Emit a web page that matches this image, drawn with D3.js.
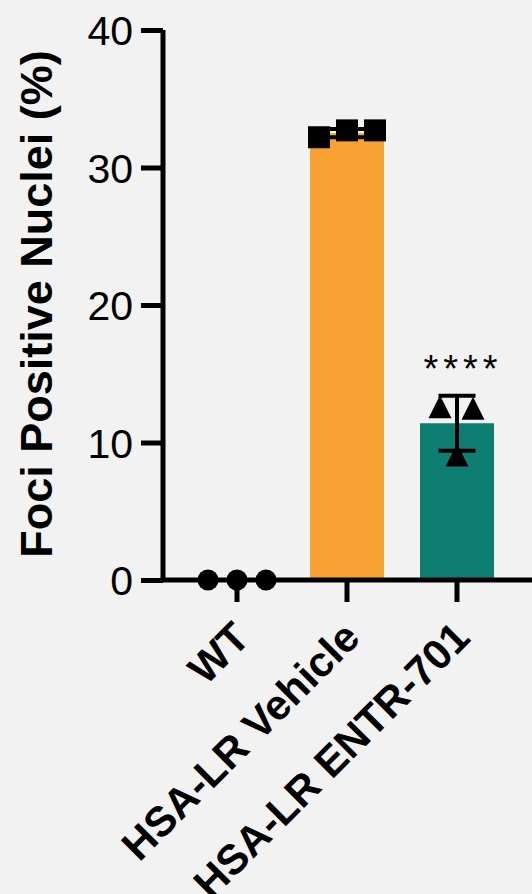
<!DOCTYPE html>
<html>
<head>
<meta charset="utf-8">
<script src="https://cdn.jsdelivr.net/npm/d3@7"></script>
<style>
  html, body { margin: 0; padding: 0; background: #f2f2f2; }
  svg { display: block; }
</style>
</head>
<body>
<div id="chart"></div>
<script>
// ---- data ----
const categories = ["WT", "HSA-LR Vehicle", "HSA-LR ENTR-701"];
const means = [0, 32.5, 11.4];
const sds = [0, 0.3, 2.0];
const pointsWT = [0, 0, 0];
const pointsVehicle = [32.2, 32.7, 32.7];
const pointsENTR = [12.6, 9.1, 12.5];
const yTicks = [0, 10, 20, 30, 40];
const sigLabels = ["", "", "****"];
const yTitle = "Foci Positive Nuclei (%)";

const barColors = [null, "#F8A233", "#0E7E73"];
const pointSets = [pointsWT, pointsVehicle, pointsENTR];
const shapes = ["circle", "square", "triangle"];

// ---- layout ----
const W = 532, H = 894;
const svg = d3.select("#chart").append("svg").attr("width", W).attr("height", H);
svg.append("rect").attr("width", W).attr("height", H).attr("fill", "#f2f2f2");

const y = d3.scaleLinear().domain([0, 40]).range([580, 30]);
const x = d3.scaleBand().domain(categories).range([182, 512])
  .paddingInner(0.327).paddingOuter(0.1635);
const cx = c => x(c) + x.bandwidth() / 2;
const axisX = 163;

// bars
categories.forEach((c, i) => {
  if (!barColors[i] || means[i] <= 0) return;
  svg.append("rect")
    .attr("x", x(c)).attr("width", x.bandwidth())
    .attr("y", y(means[i])).attr("height", y(0) - y(means[i]))
    .attr("fill", barColors[i]);
});

// error bars
const capW = 37;
categories.forEach((c, i) => {
  if (sds[i] <= 0) return;
  const g = svg.append("g").attr("stroke", "#000").attr("stroke-width", 4);
  const xc = cx(c);
  g.append("line").attr("x1", xc).attr("x2", xc)
    .attr("y1", y(means[i] + sds[i])).attr("y2", y(means[i] - sds[i]));
  [means[i] + sds[i], means[i] - sds[i]].forEach(v => {
    g.append("line").attr("x1", xc - capW / 2).attr("x2", xc + capW / 2)
      .attr("y1", y(v)).attr("y2", y(v));
  });
});

// axes
const yAxis = d3.axisLeft(y).tickValues(yTicks).tickSize(22).tickPadding(8).tickFormat(d3.format("d"));
const gy = svg.append("g").attr("transform", `translate(${axisX},0)`).call(yAxis);
gy.select(".domain").attr("d", `M0,${y(40)}V${y(0)}`).attr("stroke", "#000").attr("stroke-width", 5);
gy.selectAll(".tick line").attr("stroke", "#000").attr("stroke-width", 5);
gy.selectAll(".tick text").attr("font-family", "Liberation Sans, Arial, sans-serif")
  .attr("font-size", 41).attr("fill", "#000").attr("dy", "0.36em").attr("x", -30);

const xAxis = d3.axisBottom(x).tickSize(22).tickFormat("");
const gx = svg.append("g").attr("transform", `translate(0,${y(0)})`).call(xAxis);
gx.select(".domain").attr("d", `M${axisX - 2.5},0H${W + 10}`).attr("stroke", "#000").attr("stroke-width", 5);
gx.selectAll(".tick line").attr("stroke", "#000").attr("stroke-width", 5);

// x labels
categories.forEach(c => {
  svg.append("text")
    .attr("transform", `translate(${cx(c) + 15},640) rotate(-45)`)
    .attr("text-anchor", "end")
    .attr("font-family", "Liberation Sans, Arial, sans-serif")
    .attr("font-weight", "bold").attr("font-size", 42).attr("fill", "#000")
    .text(c);
});

// y title
svg.append("text")
  .attr("transform", `translate(52,${(y(0) + y(40)) / 2 - 1}) rotate(-90)`)
  .attr("text-anchor", "middle")
  .attr("font-family", "Liberation Sans, Arial, sans-serif")
  .attr("font-weight", "bold").attr("font-size", 45).attr("fill", "#000")
  .text(yTitle);

// points
const offsets = [[-29, 0, 29], [-28, 0, 28], [-17, 0, 16]];
pointSets.forEach((pts, i) => {
  const xc = cx(categories[i]);
  pts.forEach((v, j) => {
    const px = xc + offsets[i][j], py = y(v);
    if (shapes[i] === "circle") {
      svg.append("circle").attr("cx", px).attr("cy", py).attr("r", 10.5).attr("fill", "#000");
    } else if (shapes[i] === "square") {
      svg.append("rect").attr("x", px - 11).attr("y", py - 11).attr("width", 22).attr("height", 22).attr("fill", "#000");
    } else {
      const h = 11.5;
      svg.append("path").attr("d", `M${px},${py - h}L${px - h},${py + h}L${px + h},${py + h}Z`).attr("fill", "#000");
    }
  });
});

// significance
categories.forEach((c, i) => {
  if (!sigLabels[i]) return;
  svg.append("text")
    .attr("x", cx(c) + 6).attr("y", y(means[i] + sds[i]) - 14)
    .attr("text-anchor", "middle")
    .attr("font-family", "Liberation Sans, Arial, sans-serif")
    .attr("font-size", 38).attr("letter-spacing", "5px").attr("fill", "#000")
    .text(sigLabels[i]);
});
</script>
</body>
</html>
